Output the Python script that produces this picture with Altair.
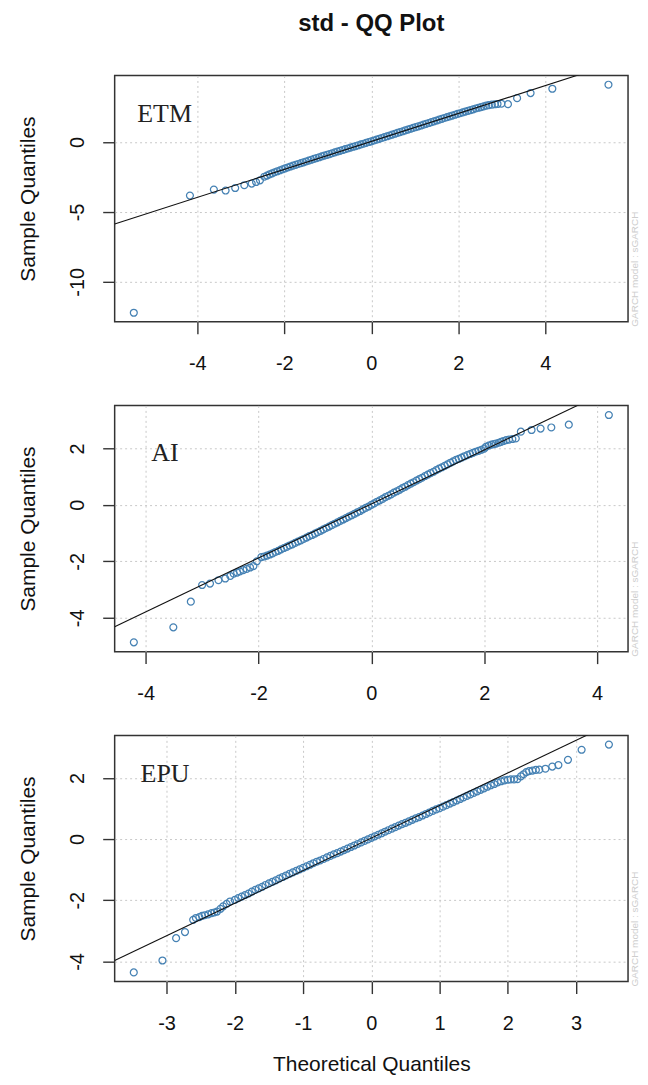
import altair as alt
import pandas as pd

# ---------------- ETM ----------------
etm_theoretical = [
    -5.46, -4.17, -3.62, -3.35, -3.13, -2.92, -2.75, -2.65, -2.56,
    -2.46, -2.40, -2.34, -2.28, -2.22, -2.16, -2.10, -2.04, -1.98, -1.92,
    -1.86, -1.80, -1.74, -1.68, -1.62, -1.56, -1.50, -1.44, -1.38, -1.32,
    -1.26, -1.20, -1.14, -1.08, -1.02, -0.96, -0.90, -0.84, -0.78, -0.72,
    -0.66, -0.60, -0.54, -0.48, -0.42, -0.36, -0.30, -0.24, -0.18, -0.12,
    -0.06, 0.00, 0.06, 0.12, 0.18, 0.24, 0.30, 0.36, 0.42, 0.48,
    0.54, 0.60, 0.66, 0.72, 0.78, 0.84, 0.90, 0.96, 1.02, 1.08,
    1.14, 1.20, 1.26, 1.32, 1.38, 1.44, 1.50, 1.56, 1.62, 1.68,
    1.74, 1.80, 1.86, 1.92, 1.98, 2.04, 2.10, 2.16, 2.22, 2.28,
    2.34, 2.40, 2.46, 2.52, 2.58, 2.64, 2.70,
    2.77, 2.84, 2.90, 2.99, 3.14, 3.35, 3.66, 4.16, 5.45,
]
etm_sample = [
    -12.21, -3.83, -3.40, -3.47, -3.29, -3.09, -2.97, -2.86, -2.74,
    -2.48, -2.40, -2.31, -2.24, -2.16, -2.09, -2.02, -1.95, -1.88, -1.82,
    -1.75, -1.69, -1.63, -1.57, -1.51, -1.45, -1.39, -1.33, -1.27, -1.21,
    -1.15, -1.09, -1.03, -0.97, -0.92, -0.86, -0.80, -0.74, -0.68, -0.63,
    -0.57, -0.51, -0.46, -0.40, -0.34, -0.29, -0.23, -0.17, -0.12, -0.06,
    0.00, 0.05, 0.11, 0.17, 0.23, 0.29, 0.35, 0.41, 0.47, 0.53,
    0.59, 0.65, 0.71, 0.77, 0.83, 0.89, 0.95, 1.01, 1.07, 1.12,
    1.18, 1.24, 1.30, 1.36, 1.42, 1.48, 1.54, 1.60, 1.66, 1.72,
    1.78, 1.83, 1.89, 1.95, 2.01, 2.06, 2.12, 2.18, 2.23, 2.28,
    2.34, 2.40, 2.45, 2.50, 2.55, 2.60, 2.64,
    2.67, 2.70, 2.72, 2.74, 2.71, 3.14, 3.50, 3.81, 4.10,
]

# ---------------- AI ----------------
ai_theoretical = [
    -4.21, -3.51, -3.20, -3.00, -2.86, -2.71, -2.59, -2.50, -2.44, -2.38,
    -2.33, -2.27, -2.21, -2.15, -2.09, -2.03,
    -1.95, -1.90, -1.85, -1.80, -1.75, -1.70, -1.65, -1.60, -1.55, -1.50,
    -1.45, -1.40, -1.35, -1.30, -1.25, -1.20, -1.15, -1.10, -1.05, -1.00,
    -0.95, -0.90, -0.85, -0.80, -0.75, -0.70, -0.65, -0.60, -0.55, -0.50,
    -0.45, -0.40, -0.35, -0.30, -0.25, -0.20, -0.15, -0.10, -0.05, 0.00,
    0.05, 0.10, 0.15, 0.20, 0.25, 0.30, 0.35, 0.40, 0.45, 0.50,
    0.55, 0.60, 0.65, 0.70, 0.75, 0.80, 0.85, 0.90, 0.95, 1.00,
    1.05, 1.10, 1.15, 1.20, 1.25, 1.30, 1.35, 1.40, 1.45, 1.50,
    1.55, 1.60, 1.65, 1.70, 1.75, 1.80, 1.85, 1.90, 1.95, 2.00,
    2.03, 2.08, 2.13, 2.17, 2.21, 2.26, 2.30, 2.34, 2.39, 2.44,
    2.50, 2.56, 2.65, 2.84, 3.00, 3.19, 3.50, 4.21,
]
ai_sample = [
    -4.87, -4.34, -3.43, -2.84, -2.79, -2.67, -2.61, -2.52, -2.44, -2.40,
    -2.36, -2.31, -2.27, -2.22, -2.17, -2.00,
    -1.85, -1.83, -1.80, -1.76, -1.72, -1.67, -1.63, -1.58, -1.53, -1.49,
    -1.44, -1.40, -1.35, -1.30, -1.26, -1.21, -1.16, -1.11, -1.07, -1.02,
    -0.97, -0.92, -0.87, -0.82, -0.77, -0.72, -0.67, -0.62, -0.57, -0.52,
    -0.47, -0.42, -0.37, -0.32, -0.27, -0.22, -0.16, -0.11, -0.06, 0.00,
    0.05, 0.11, 0.16, 0.21, 0.27, 0.32, 0.37, 0.43, 0.48, 0.53,
    0.59, 0.64, 0.70, 0.75, 0.80, 0.86, 0.91, 0.96, 1.02, 1.07,
    1.12, 1.17, 1.23, 1.28, 1.33, 1.38, 1.43, 1.49, 1.54, 1.59,
    1.63, 1.67, 1.72, 1.76, 1.80, 1.84, 1.88, 1.91, 1.95, 1.99,
    2.05, 2.10, 2.13, 2.15, 2.17, 2.20, 2.23, 2.26, 2.29, 2.31,
    2.33, 2.35, 2.59, 2.65, 2.70, 2.74, 2.84, 3.18,
]

# ---------------- EPU ----------------
epu_theoretical = [
    -3.48, -3.06, -2.86, -2.73, -2.61, -2.57, -2.52, -2.48, -2.44, -2.39,
    -2.34, -2.30, -2.26, -2.21, -2.17, -2.12, -2.07,
    -2.00, -1.95, -1.90, -1.85, -1.80, -1.75, -1.70, -1.65, -1.60, -1.55,
    -1.50, -1.45, -1.40, -1.35, -1.30, -1.25, -1.20, -1.15, -1.10, -1.05,
    -1.00, -0.95, -0.90, -0.85, -0.80, -0.75, -0.70, -0.65, -0.60, -0.55,
    -0.50, -0.45, -0.40, -0.35, -0.30, -0.25, -0.20, -0.15, -0.10, -0.05,
    0.00, 0.05, 0.10, 0.15, 0.20, 0.25, 0.30, 0.35, 0.40, 0.45,
    0.50, 0.55, 0.60, 0.65, 0.70, 0.75, 0.80, 0.85, 0.90, 0.95,
    1.00, 1.05, 1.10, 1.15, 1.20, 1.25, 1.30, 1.35, 1.40, 1.45,
    1.50, 1.55, 1.60, 1.65, 1.70, 1.75, 1.80, 1.85, 1.90, 1.95,
    2.00, 2.04, 2.09, 2.14, 2.19, 2.23, 2.27, 2.31, 2.36, 2.41,
    2.46, 2.55, 2.65, 2.74, 2.88, 3.08, 3.48,
]
epu_sample = [
    -4.36, -3.97, -3.24, -3.04, -2.64, -2.58, -2.55, -2.51, -2.49, -2.46,
    -2.42, -2.40, -2.37, -2.28, -2.20, -2.12, -2.04,
    -1.99, -1.93, -1.88, -1.83, -1.78, -1.72, -1.66, -1.61, -1.56, -1.50,
    -1.45, -1.40, -1.35, -1.29, -1.24, -1.19, -1.14, -1.09, -1.04, -0.99,
    -0.94, -0.89, -0.84, -0.79, -0.74, -0.70, -0.65, -0.60, -0.55, -0.50,
    -0.46, -0.41, -0.36, -0.31, -0.26, -0.21, -0.16, -0.11, -0.06, -0.01,
    0.04, 0.09, 0.14, 0.19, 0.24, 0.29, 0.34, 0.39, 0.44, 0.49,
    0.53, 0.58, 0.63, 0.68, 0.72, 0.77, 0.82, 0.87, 0.92, 0.97,
    1.01, 1.06, 1.11, 1.16, 1.21, 1.26, 1.31, 1.36, 1.41, 1.46,
    1.51, 1.56, 1.61, 1.66, 1.71, 1.76, 1.80, 1.85, 1.89, 1.92,
    1.94, 1.95, 1.95, 1.96, 2.05, 2.12, 2.19, 2.22, 2.24, 2.26,
    2.27, 2.30, 2.37, 2.42, 2.59, 2.92, 3.09,
]

# reference lines (slope, intercept)
etm_line = (1.0, 0.04)
ai_line = (0.955, 0.03)
epu_line = (1.065, 0.035)

# axis domains and ticks
etm_xdom, etm_ydom = [-5.9, 5.9], [-12.85, 4.76]
ai_xdom, ai_ydom = [-4.55, 4.55], [-5.2, 3.52]
epu_xdom, epu_ydom = [-3.76, 3.76], [-4.66, 3.39]
etm_xticks, etm_yticks = [-4, -2, 0, 2, 4], [-10, -5, 0]
ai_xticks, ai_yticks = [-4, -2, 0, 2, 4], [-4, -2, 0, 2]
epu_xticks, epu_yticks = [-3, -2, -1, 0, 1, 2, 3], [-4, -2, 0, 2]

# label positions (data coordinates)
etm_label = ("ETM", -5.38, 1.43)
ai_label = ("AI", -3.90, 1.55)
epu_label = ("EPU", -3.38, 1.88)

W, H = 515, 247
PT_COLOR = "#4682b4"
LABEL_EXPR = "datum.value + ''"


def panel(xs, ys, line, xdom, ydom, xticks, yticks, label, last):
    df = pd.DataFrame({"x": xs, "y": ys})
    slope, icpt = line
    ldf = pd.DataFrame({"x": xdom})
    ldf["y"] = slope * ldf["x"] + icpt
    tdf = pd.DataFrame({"t": [label[0]], "x": [label[1]], "y": [label[2]]})

    xscale = alt.Scale(domain=xdom, nice=False, zero=False)
    yscale = alt.Scale(domain=ydom, nice=False, zero=False)
    if last:
        xaxis = alt.Axis(values=xticks, title="Theoretical Quantiles",
                         titleY=83, titleBaseline="middle", labelExpr=LABEL_EXPR)
    else:
        xaxis = alt.Axis(values=xticks, title=None, labelExpr=LABEL_EXPR)
    yaxis = alt.Axis(values=yticks, title="Sample Quantiles", titleX=-86,
                     titleBaseline="middle", titleAngle=270,
                     labelAngle=270, labelAlign="center",
                     labelBaseline="alphabetic", labelPadding=19,
                     labelExpr=LABEL_EXPR)

    pts = alt.Chart(df).mark_point(
        shape="circle", filled=False, color=PT_COLOR, size=48,
        strokeWidth=1.25, opacity=1, clip=True
    ).encode(
        x=alt.X("x:Q", scale=xscale, axis=xaxis),
        y=alt.Y("y:Q", scale=yscale, axis=yaxis),
    )
    ln = alt.Chart(ldf).mark_line(color="#111111", strokeWidth=1.1, clip=True).encode(
        x=alt.X("x:Q", scale=xscale), y=alt.Y("y:Q", scale=yscale)
    )
    txt = alt.Chart(tdf).mark_text(
        font="Liberation Serif", fontSize=26, align="left",
        baseline="alphabetic", color="#222222"
    ).encode(x=alt.X("x:Q", scale=xscale), y=alt.Y("y:Q", scale=yscale), text="t:N")
    side = alt.Chart(tdf).mark_text(
        angle=270, align="left", baseline="middle", fontSize=10,
        color="#cdcdcd", font="Liberation Sans"
    ).encode(x=alt.value(W + 7), y=alt.value(H + 5),
             text=alt.value("GARCH model : sGARCH"))
    return alt.layer(pts, ln, txt, side).properties(width=W, height=H)


p1 = panel(etm_theoretical, etm_sample, etm_line, etm_xdom, etm_ydom,
           etm_xticks, etm_yticks, etm_label, False)
p2 = panel(ai_theoretical, ai_sample, ai_line, ai_xdom, ai_ydom,
           ai_xticks, ai_yticks, ai_label, False)
p3 = panel(epu_theoretical, epu_sample, epu_line, epu_xdom, epu_ydom,
           epu_xticks, epu_yticks, epu_label, True)

chart = alt.vconcat(p1, p2, p3, spacing=84, bounds="flush").properties(
    title=alt.TitleParams(text="std - QQ Plot", fontSize=24, fontWeight="bold",
                          font="Liberation Sans", anchor="middle", offset=39,
                          frame="group", color="#111111"),
    padding={"left": 9, "top": 2, "right": -1, "bottom": -2},
).configure_view(
    stroke="#333333", strokeWidth=1.5
).configure_axis(
    labelFont="Liberation Sans", titleFont="Liberation Sans",
    labelFontSize=20, titleFontSize=21, titleFontWeight="normal",
    labelColor="#111111", titleColor="#111111",
    tickColor="#333333", tickWidth=1.4, tickSize=12,
    domain=False, gridColor="#c8c8c8", gridDash=[2, 3], gridWidth=1,
    labelOverlap=False, labelFlush=False,
).configure_axisX(labelPadding=20)

chart.save("out.html", embed_options={"renderer": "svg", "actions": False})
